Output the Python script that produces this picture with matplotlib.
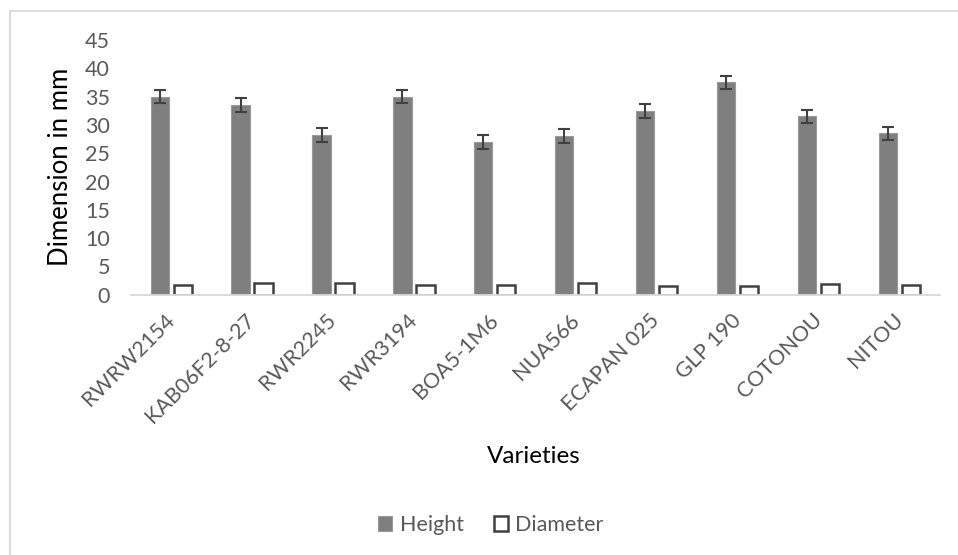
import matplotlib
matplotlib.use("Agg")
import matplotlib.pyplot as plt
import numpy as np
from matplotlib.patches import Rectangle

categories = ["RWRW2154", "KAB06F2-8-27", "RWR2245", "RWR3194", "BOA5-1M6",
              "NUA566", "ECAPAN 025", "GLP 190", "COTONOU", "NITOU"]
height = [35.0, 33.5, 28.2, 35.0, 27.0, 28.0, 32.5, 37.5, 31.5, 28.5]
height_err = [1.2, 1.2, 1.2, 1.2, 1.2, 1.2, 1.2, 1.2, 1.2, 1.2]
diameter = [1.8, 2.0, 2.0, 1.8, 1.8, 2.0, 1.5, 1.5, 1.9, 1.7]
yticks = [0, 5, 10, 15, 20, 25, 30, 35, 40, 45]

plt.rcParams['font.family'] = ['Lato', 'DejaVu Sans']
txt = '#595959'

W, H = 958, 555
fig = plt.figure(figsize=(W/100, H/100), dpi=100)
ax = fig.add_axes([130.7/W, 1-294.7/H, (940-130.7)/W, (294.7-40)/H])

x = np.arange(len(categories))
bw = 0.225
off = 0.142
ax.bar(x - off, height, bw, color='#7f7f7f', edgecolor='#9a9a9a', linewidth=0.8,
       yerr=height_err, error_kw=dict(ecolor='#404040', elinewidth=1.5, capsize=4, capthick=1.5),
       label='Height', zorder=2)
ax.bar(x + off, diameter, bw, color='white', edgecolor='#404040', linewidth=1.8,
       label='Diameter', zorder=2)

ax.set_xlim(-0.5, len(categories) - 0.5)
ax.set_ylim(0, 45)
ax.set_yticks(yticks)
ax.set_yticklabels([str(v) for v in yticks], fontsize=15.5, color=txt)
ax.set_xticks(x)
ax.set_xticklabels(categories, rotation=45, ha='right', va='center',
                   rotation_mode='anchor', fontsize=15.5, color=txt)
ax.tick_params(axis='both', length=0)
ax.tick_params(axis='y', pad=15)
ax.tick_params(axis='x', pad=16)
for s in ['top', 'right', 'left']:
    ax.spines[s].set_visible(False)
ax.spines['bottom'].set_color('#d9d9d9')
ax.spines['bottom'].set_linewidth(1.3)

fig.text(60/W, 1-(167/H), 'Dimension in mm', rotation=90, ha='center', va='center',
         fontsize=18.5, color='black')
fig.text(534/W, 1-456.7/H, 'Varieties', ha='center', va='center', fontsize=17.5, color='black')

leg = fig.legend(loc='center', bbox_to_anchor=(491/W, 1-525/H), ncol=2, frameon=False,
                 fontsize=15.5, handlelength=0.65, handleheight=0.65, handletextpad=0.35,
                 columnspacing=1.4)
for t in leg.get_texts():
    t.set_color(txt)

fig.patches.append(Rectangle((10/W, -0.1), 1.2, 1 - 11/H + 0.1, transform=fig.transFigure,
                             fill=False, edgecolor='#d9d9d9', linewidth=1.3))

fig.savefig('out.png', dpi=100, facecolor='white')
